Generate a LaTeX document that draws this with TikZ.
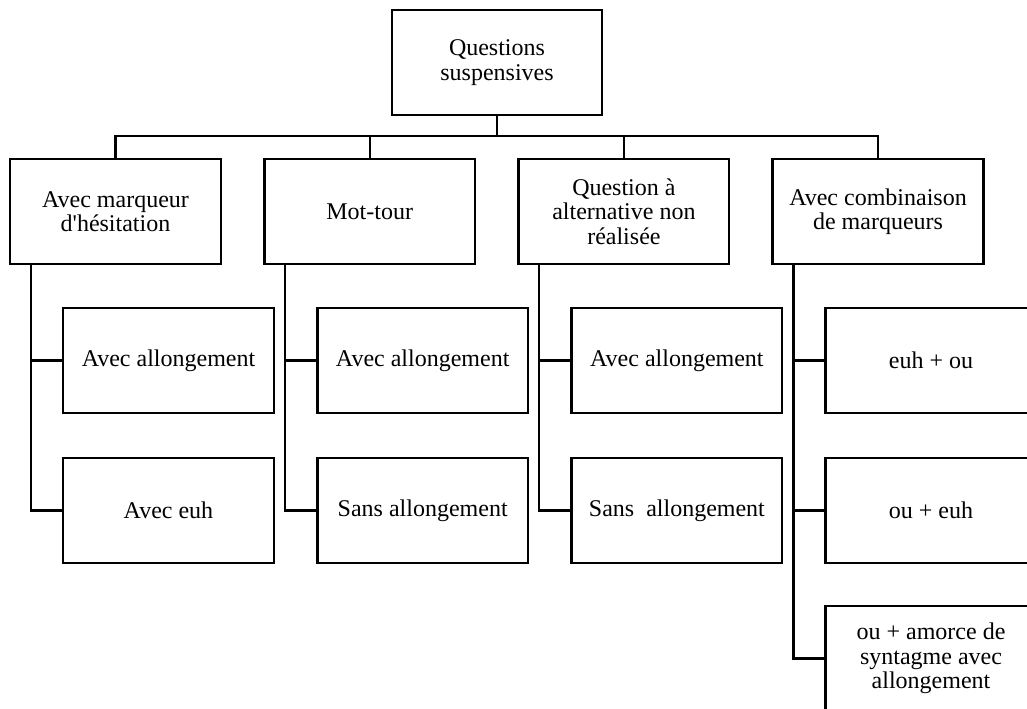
\documentclass[tikz,border=0pt]{standalone}
\usepackage{fontspec}
\setmainfont{Liberation Serif}
\begin{document}
\begin{tikzpicture}[x=0.75pt,y=-0.75pt,
  box/.style={draw=black,line width=1.8pt,fill=white,minimum width=158pt,minimum height=78.75pt,
    inner sep=2pt,align=center,font=\fontsize{18}{18.3}\selectfont},
  link/.style={draw=black,line width=1.6pt}]
\clip (0,0) rectangle (1027,708);
% top
\node[box,minimum width=157.5pt] (top) at (497,62.5) {Questions\\suspensives};
% level 2
\node[box] (l1) at (115.5,211.5) {Avec marqueur\\d\textquotesingle hésitation};
\node[box] (l2) at (369.7,211.5) {Mot-tour};
\node[box] (l3) at (623.9,211.5) {Question à\\alternative non\\réalisée};
\node[box] (l4) at (878,211.5) {Avec combinaison\\de marqueurs};
% children
\node[box] (c11) at (168.5,360.5) {Avec allongement};
\node[box] (c12) at (168.5,510.5) {Avec euh};
\node[box] (c21) at (422.7,360.5) {Avec allongement};
\node[box] (c22) at (422.7,510.5) {Sans allongement};
\node[box] (c31) at (676.9,360.5) {Avec allongement};
\node[box] (c32) at (676.9,510.5) {Sans~~allongement};
\node[box] (c41) at (931,360.5) {euh + ou};
\node[box] (c42) at (931,510.5) {ou + euh};
\node[box] (c43) at (931,658.5) {ou + amorce de\\syntagme avec\\allongement};
% bus
\coordinate (bus) at (497,136);
\draw[link] (top.south) -- (top.south |- bus);
\draw[link] (l1.north) |- (l4.north |- bus) -- (l4.north);
\draw[link] (l2.north) -- (l2.north |- bus);
\draw[link] (l3.north) -- (l3.north |- bus);
% trunks
\coordinate (t1) at ([xshift=16.5pt]l1.south west);
\coordinate (t2) at ([xshift=16.5pt]l2.south west);
\coordinate (t3) at ([xshift=16.5pt]l3.south west);
\coordinate (t4) at ([xshift=16.5pt]l4.south west);
\draw[link] (t1) |- (c12.west);
\draw[link] (t1 |- c11.west) -- (c11.west);
\draw[link] (t2) |- (c22.west);
\draw[link] (t2 |- c21.west) -- (c21.west);
\draw[link] (t3) |- (c32.west);
\draw[link] (t3 |- c31.west) -- (c31.west);
\draw[link] (t4) |- (c43.west);
\draw[link] (t4 |- c41.west) -- (c41.west);
\draw[link] (t4 |- c42.west) -- (c42.west);
\end{tikzpicture}
\end{document}
